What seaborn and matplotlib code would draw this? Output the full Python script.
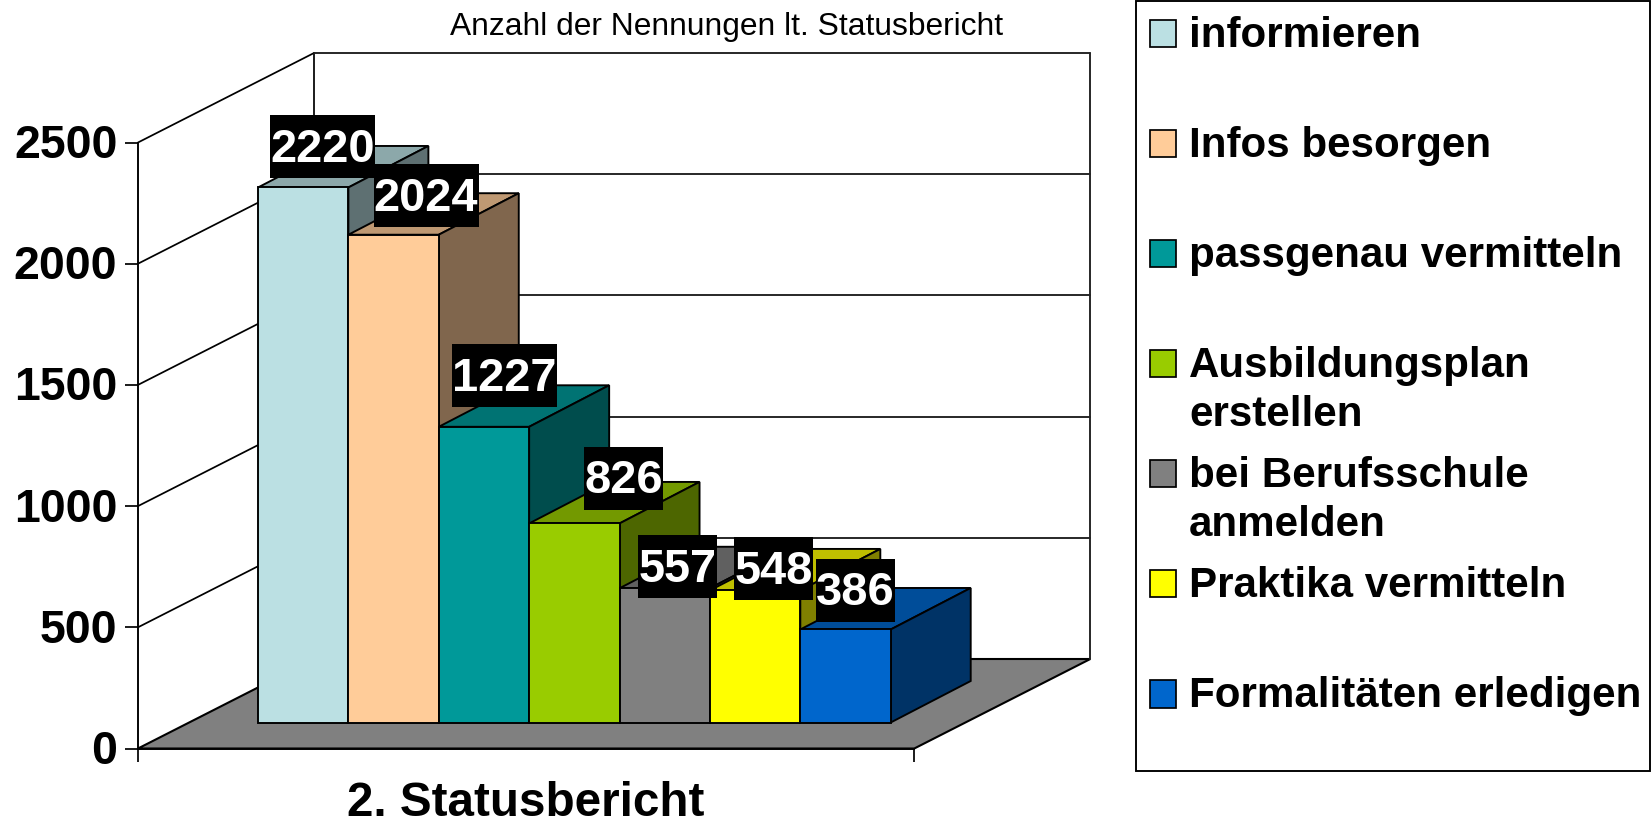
import numpy as np
import pandas as pd
import matplotlib
matplotlib.use("Agg")
import matplotlib.pyplot as plt
from matplotlib.patches import Polygon, Rectangle, Patch
from matplotlib.colors import to_rgb
from matplotlib.transforms import ScaledTranslation
import seaborn as sns

# ---- data ----
categories = ["informieren", "Infos besorgen", "passgenau vermitteln",
              "Ausbildungsplan erstellen", "bei Berufsschule anmelden",
              "Praktika vermitteln", "Formalitäten erledigen"]
values = [2220, 2024, 1227, 826, 557, 548, 386]
legend_labels = ["informieren\n", "Infos besorgen\n", "passgenau vermitteln\n",
                 "Ausbildungsplan\nerstellen", "bei Berufsschule\nanmelden",
                 "Praktika vermitteln\n", "Formalitäten erledigen\n"]
y_ticks = [0, 500, 1000, 1500, 2000, 2500]
title = "Anzahl der Nennungen lt. Statusbericht"
x_label = "2. Statusbericht"

# ---- styles ----
colors = ["#BBE0E3", "#FFCC99", "#009999", "#99CC00", "#808080", "#FFFF00", "#0066CC"]
label_offsets = [(19.5, 40.5), (32.5, 39), (20.5, 51), (49, 45), (13, 21.5), (18.5, 21.5), (10, 39)]

W, H = 1651, 824
sns.set_theme(style="white")
plt.rcParams["font.family"] = ["Liberation Sans", "DejaVu Sans"]
fig = plt.figure(figsize=(W / 100, H / 100), dpi=100, facecolor="white")


def rect_px(x0, x1, y_bottom, y_top):
    return [x0 / W, 1 - y_bottom / H, (x1 - x0) / W, (y_bottom - y_top) / H]


LW = 1.25
# ---- frame (floor, walls) ----
fx0, fx1, fy0, fy_top = 138, 914.3, 748.5, 142.5
depth_px, depth_py = 176, 89.5
ax_f = fig.add_axes(rect_px(fx0, fx1, fy0, fy_top))
ax_f.set_xlim(0, fx1 - fx0)
ax_f.set_ylim(0, y_ticks[-1])
unit = (fy0 - fy_top) / y_ticks[-1]
dvf = depth_py / unit
xr = fx1 - fx0
ymax = y_ticks[-1]
ax_f.add_patch(Polygon([(0, 0), (xr, 0), (xr + depth_px, dvf), (depth_px, dvf)],
                       closed=True, fc="#808080", ec="black", lw=LW * 1.2, clip_on=False, zorder=1))
ax_f.plot([depth_px, depth_px], [dvf, ymax + dvf], color="black", lw=LW, clip_on=False, zorder=2)
ax_f.plot([xr + depth_px] * 2, [dvf, ymax + dvf], color="#222222", lw=LW * 1.1, clip_on=False, zorder=2)
for t in y_ticks[1:]:
    ax_f.plot([0, depth_px], [t, t + dvf], color="black", lw=LW, clip_on=False, zorder=2)
    ax_f.plot([depth_px, xr + depth_px], [t + dvf, t + dvf], color="#222222", lw=LW * 1.1, clip_on=False, zorder=2)
ax_f.set_yticks(y_ticks)
ax_f.set_xticks([0, xr])
ax_f.set_xticklabels(["", ""])
ax_f.tick_params(axis="both", length=9.4, width=LW, color="black", bottom=True, left=True, pad=5.5)
for tick in ax_f.yaxis.get_major_ticks():
    lab = tick.label1
    lab.set_fontsize(33.5)
    lab.set_fontweight("bold")
    lab.set_color("black")
    lab.set_transform(lab.get_transform() + ScaledTranslation(0, 1.5 / 100, fig.dpi_scale_trans))
for s in ["top", "right"]:
    ax_f.spines[s].set_visible(False)
for s in ["left", "bottom"]:
    ax_f.spines[s].set_color("black")
    ax_f.spines[s].set_linewidth(LW * 1.1)
ax_f.patch.set_alpha(0)
ax_f.set_xlabel(x_label, fontsize=34.3, fontweight="bold", color="black", labelpad=8.5)

# ---- bars ----
bx0, bx1, by0 = 258, 890.7, 722.5
bar_unit = 0.241
ax_b = fig.add_axes(rect_px(bx0, bx1, by0, by0 - bar_unit * ymax))
ax_b.patch.set_alpha(0)
df = pd.DataFrame({"Kategorie": categories, "Anzahl": values})
sns.barplot(data=df, x="Kategorie", y="Anzahl", hue="Kategorie", palette=colors,
            hue_order=categories, order=categories, dodge=False, width=1.0, legend=False,
            saturation=1, edgecolor="black", linewidth=LW * 1.1, ax=ax_b)
ax_b.set_xlim(-0.5, 6.5)
ax_b.set_ylim(0, ymax)
ax_b.axis("off")
cat_px = (bx1 - bx0) / len(categories)
ddx, ddy = 80 / cat_px, 41.5 / bar_unit
bars = sorted(ax_b.patches, key=lambda p: p.get_x())
for i, (bar, c, v) in enumerate(zip(bars, colors, values)):
    x0 = bar.get_x()
    x1 = x0 + bar.get_width()
    rgb = np.array(to_rgb(c))
    z = 3 + 3 * i
    bar.set_zorder(z + 2)
    bar.set_clip_on(False)
    ax_b.add_patch(Polygon([(x0, v), (x1, v), (x1 + ddx, v + ddy), (x0 + ddx, v + ddy)], closed=True,
                           fc=rgb * 0.75, ec="black", lw=LW * 1.1, zorder=z, clip_on=False))
    ax_b.add_patch(Polygon([(x1, 0), (x1 + ddx, ddy), (x1 + ddx, v + ddy), (x1, v)], closed=True,
                           fc=rgb * 0.5, ec="black", lw=LW * 1.1, zorder=z + 1, clip_on=False))

# ---- value labels ----
for i, (bar, v, (ox, oy)) in enumerate(zip(bars, values, label_offsets)):
    txt = str(v)
    cx = bar.get_x() + bar.get_width() / 2 + ox / cat_px
    cy = v + oy / bar_unit
    w = len(txt) * 26.25 / cat_px
    h = 63 / bar_unit
    ax_b.add_patch(Rectangle((cx - w / 2, cy - h / 2), w, h, fc="black", ec="none",
                             zorder=40 + 2 * i, clip_on=False))
    ax_b.text(cx, cy + 2 / bar_unit, txt, color="white", fontsize=33.8, fontweight="bold", ha="center",
              va="center_baseline", zorder=41 + 2 * i, clip_on=False)

# ---- legend ----
fig.add_artist(Rectangle((1136 / W, 1 - 771 / H), (W - 1136 - 1) / W, (771 - 0.5) / H,
                         transform=fig.transFigure, fc="white", ec="black", lw=LW * 1.1, zorder=-1))
handles = [Patch(facecolor=c, edgecolor="black", linewidth=LW) for c in colors]
leg = ax_b.legend(handles, legend_labels, loc="upper left", bbox_to_anchor=(1149.5 / W, 1 - 16 / H),
                  bbox_transform=fig.transFigure, frameon=False, borderpad=0, borderaxespad=0,
                  prop={"family": "Liberation Sans", "weight": "bold", "size": 30.3},
                  handlelength=0.64, handleheight=0.64, handletextpad=0.3, labelspacing=0.5)
leg.set_zorder(100)
for t in leg.get_texts():
    t.set_color("black")
    t.set_linespacing(1.29)
for hd in leg.legend_handles:
    hd.set_y(hd.get_y() + 20)

fig.suptitle(title, x=726.5 / W, y=1 - 27 / H, fontsize=22.9, color="black", ha="center", va="center")
fig.savefig("out.png", dpi=100, facecolor="white")
